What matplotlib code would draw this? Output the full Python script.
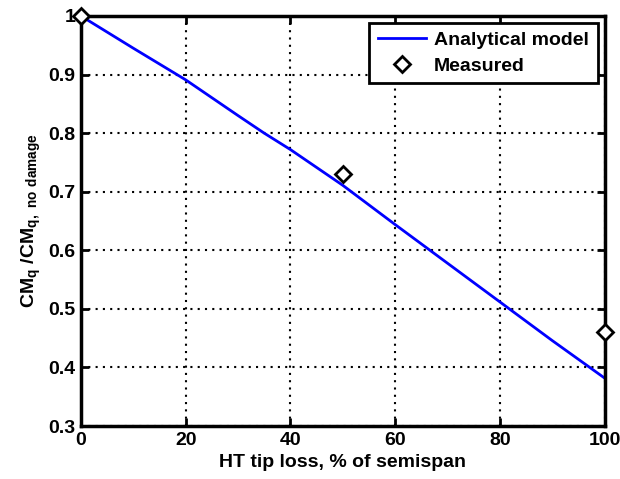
import numpy as np
import matplotlib.pyplot as plt

plt.rcParams['font.family'] = 'Liberation Sans'
plt.rcParams['font.weight'] = 'bold'
plt.rcParams['mathtext.fontset'] = 'custom'
plt.rcParams['mathtext.bf'] = 'Liberation Sans:bold'
plt.rcParams['mathtext.rm'] = 'Liberation Sans:bold'
plt.rcParams['mathtext.default'] = 'bf'

# analytical model, CMq ratio vs tip loss
tip_loss = [0, 10, 20, 30, 35, 40, 50, 60, 70, 80, 90, 100]
cmq_model = [1.0, 0.945, 0.891, 0.830, 0.800, 0.772, 0.711, 0.644, 0.578, 0.512, 0.446, 0.382]

# wind tunnel points
tip_meas = [0, 50, 100]
cmq_meas = [1.0, 0.73, 0.46]

fig = plt.figure(figsize=(6.2, 4.79), dpi=100)
ax = fig.add_axes([0.1306, 0.1106, 0.8444, 0.856])

ax.plot(tip_loss, cmq_model, color='#0000ff', lw=2, label='Analytical model')
ax.plot(tip_meas, cmq_meas, ls='none', marker='D', ms=8, mfc='white', mec='black',
        mew=2, clip_on=False, zorder=5, label='Measured')

ax.set_xlim(0, 100)
ax.set_ylim(0.3, 1.0)
ax.set_xticks([0, 20, 40, 60, 80, 100])
ax.set_yticks([0.3, 0.4, 0.5, 0.6, 0.7, 0.8, 0.9, 1.0])
ax.set_yticklabels(['0.3', '0.4', '0.5', '0.6', '0.7', '0.8', '0.9', '1'])
ax.grid(True, color='black', ls=(0, (1, 2.5)), lw=1.5)
ax.tick_params(direction='in', length=6, width=2, labelsize=14, top=True, right=True, pad=4)
for s in ax.spines.values():
    s.set_linewidth(2.5)

ax.set_xlabel('HT tip loss, % of semispan', fontsize=14, fontweight='bold', labelpad=4)
ax.set_ylabel(r'CM$_q$ /CM$_{q,\ no\ damage}$', fontsize=14, fontweight='bold', labelpad=4)

leg = ax.legend(loc='upper right', fontsize=14, fancybox=False, framealpha=1,
                edgecolor='black', handlelength=2.5, handletextpad=0.4,
                borderaxespad=0.35, borderpad=0.45, labelspacing=0.4)
leg.get_frame().set_linewidth(2)

fig.savefig('out.png', dpi=100)
